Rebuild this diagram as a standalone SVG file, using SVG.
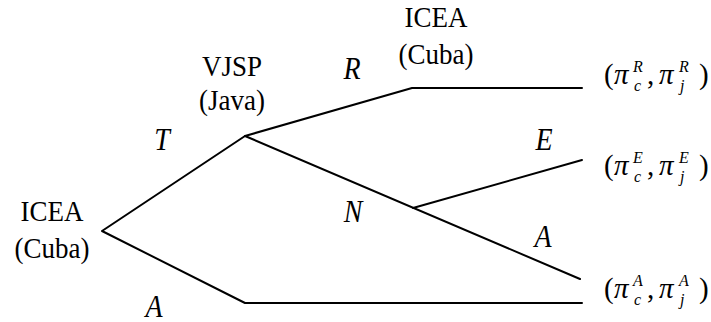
<svg xmlns="http://www.w3.org/2000/svg" width="711" height="322" viewBox="0 0 711 322">
  <style>
    .edge { fill: none; stroke: #000; stroke-width: 2; stroke-linecap: round; stroke-linejoin: round; }
    .lbl { font-family: "Liberation Serif", "Times New Roman", Times, serif; font-size: 27px; text-anchor: middle; fill: #000; }
    .act { font-family: "Liberation Serif", "Times New Roman", Times, serif; font-size: 28px; font-style: italic; text-anchor: middle; fill: #000; }
    .pay { font-family: "Liberation Serif", "Times New Roman", Times, serif; font-size: 29px; fill: #000; }
    .pi { font-style: italic; }
    .idx { font-family: "Liberation Serif", "Times New Roman", Times, serif; font-size: 16px; font-style: italic; fill: #000; }
  </style>

  <!-- tree branches -->
  <g id="connectors">
    <polyline class="edge" points="245,136 102,231 245,303 582,303"/>
    <polyline class="edge" points="582,88 412,88 245,136 580,279"/>
    <line class="edge" x1="413" y1="208" x2="582" y2="160"/>
  </g>

  <!-- decision nodes -->
  <g id="node-root">
    <text class="lbl" transform="translate(52,221) scale(1,1.12)">ICEA</text>
    <text class="lbl" transform="translate(52,258) scale(1,1.12)">(Cuba)</text>
  </g>
  <g id="node-vjsp">
    <text class="lbl" transform="translate(232,76) scale(1,1.12)">VJSP</text>
    <text class="lbl" transform="translate(232,110) scale(1,1.12)">(Java)</text>
  </g>
  <g id="node-icea2">
    <text class="lbl" transform="translate(436,27) scale(1,1.12)">ICEA</text>
    <text class="lbl" transform="translate(436,64) scale(1,1.12)">(Cuba)</text>
  </g>

  <!-- action labels -->
  <g id="actions">
    <text class="act" transform="translate(162,150) scale(1,1.1)">T</text>
    <text class="act" transform="translate(154,317) scale(1,1.1)">A</text>
    <text class="act" transform="translate(352,79) scale(1,1.1)">R</text>
    <text class="act" transform="translate(353,222) scale(1,1.1)">N</text>
    <text class="act" transform="translate(544,150) scale(1,1.1)">E</text>
    <text class="act" transform="translate(543,247) scale(1,1.1)">A</text>
  </g>

  <!-- payoff vectors -->
  <g id="payoff-R" transform="translate(604,84)">
    <text class="pay" x="0" y="0">(</text>
    <text class="pay pi" x="10" y="0">π</text>
    <text class="idx" x="29" y="-12">R</text>
    <text class="idx" x="30" y="7">c</text>
    <text class="pay" x="43" y="0">,</text>
    <text class="pay pi" x="55" y="0">π</text>
    <text class="idx" x="75" y="-12">R</text>
    <text class="idx" x="76" y="7">j</text>
    <text class="pay" x="95" y="0">)</text>
  </g>
  <g id="payoff-E" transform="translate(604,175)">
    <text class="pay" x="0" y="0">(</text>
    <text class="pay pi" x="10" y="0">π</text>
    <text class="idx" x="29" y="-12">E</text>
    <text class="idx" x="30" y="7">c</text>
    <text class="pay" x="43" y="0">,</text>
    <text class="pay pi" x="55" y="0">π</text>
    <text class="idx" x="75" y="-12">E</text>
    <text class="idx" x="76" y="7">j</text>
    <text class="pay" x="95" y="0">)</text>
  </g>
  <g id="payoff-A" transform="translate(604,298)">
    <text class="pay" x="0" y="0">(</text>
    <text class="pay pi" x="10" y="0">π</text>
    <text class="idx" x="29" y="-12">A</text>
    <text class="idx" x="30" y="7">c</text>
    <text class="pay" x="43" y="0">,</text>
    <text class="pay pi" x="55" y="0">π</text>
    <text class="idx" x="75" y="-12">A</text>
    <text class="idx" x="76" y="7">j</text>
    <text class="pay" x="95" y="0">)</text>
  </g>
</svg>
